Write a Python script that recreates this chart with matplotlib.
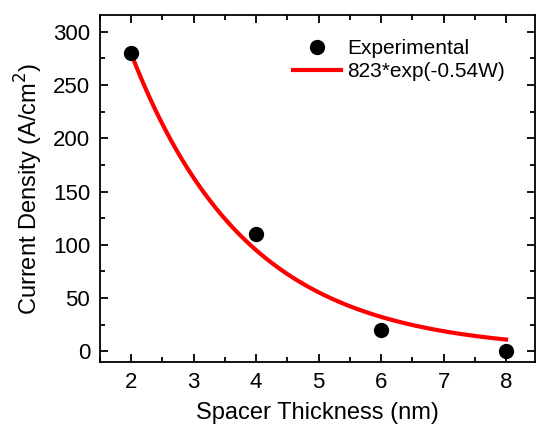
import numpy as np
import matplotlib
matplotlib.use('Agg')
import matplotlib.pyplot as plt
from matplotlib.ticker import MultipleLocator

plt.rcParams['font.family'] = ['Liberation Sans', 'DejaVu Sans']

# measured points
thickness = [2, 4, 6, 8]
current_density = [280, 110, 20, 0]

# fit parameters from the legend: J = A*exp(-k*W)
fit_a = 823
fit_k = 0.54
fit_w = np.linspace(2, 8, 200)
fit_j = fit_a * np.exp(-fit_k * fit_w)

fig = plt.figure(figsize=(5.43, 4.37), dpi=100)
ax = fig.add_axes([0.184, 0.172, 0.801, 0.794])

ax.plot(thickness, current_density, 'o', color='black', markersize=10, label='Experimental', zorder=3)
ax.plot(fit_w, fit_j, color='red', linewidth=3, label='823*exp(-0.54W)', zorder=2)

ax.set_xlim(1.5, 8.46)
ax.set_ylim(-10, 316)
ax.xaxis.set_major_locator(MultipleLocator(1))
ax.xaxis.set_minor_locator(MultipleLocator(0.5))
ax.yaxis.set_major_locator(MultipleLocator(50))
ax.yaxis.set_minor_locator(MultipleLocator(25))
ax.tick_params(which='both', direction='in', top=True, right=True, width=1.3)
ax.tick_params(which='major', length=6, labelsize=16, pad=7)
ax.tick_params(which='minor', length=3.5)
for s in ax.spines.values():
    s.set_linewidth(1.3)

ax.set_xlabel('Spacer Thickness (nm)', fontsize=17, labelpad=7)
ax.set_ylabel('Current Density (A/cm$^2$)', fontsize=17, labelpad=6)

ax.legend(loc='upper right', bbox_to_anchor=(0.975, 0.985), frameon=False, fontsize=15,
          handlelength=2.3, handletextpad=0.3, labelspacing=0.2)

plt.savefig('out.png')
